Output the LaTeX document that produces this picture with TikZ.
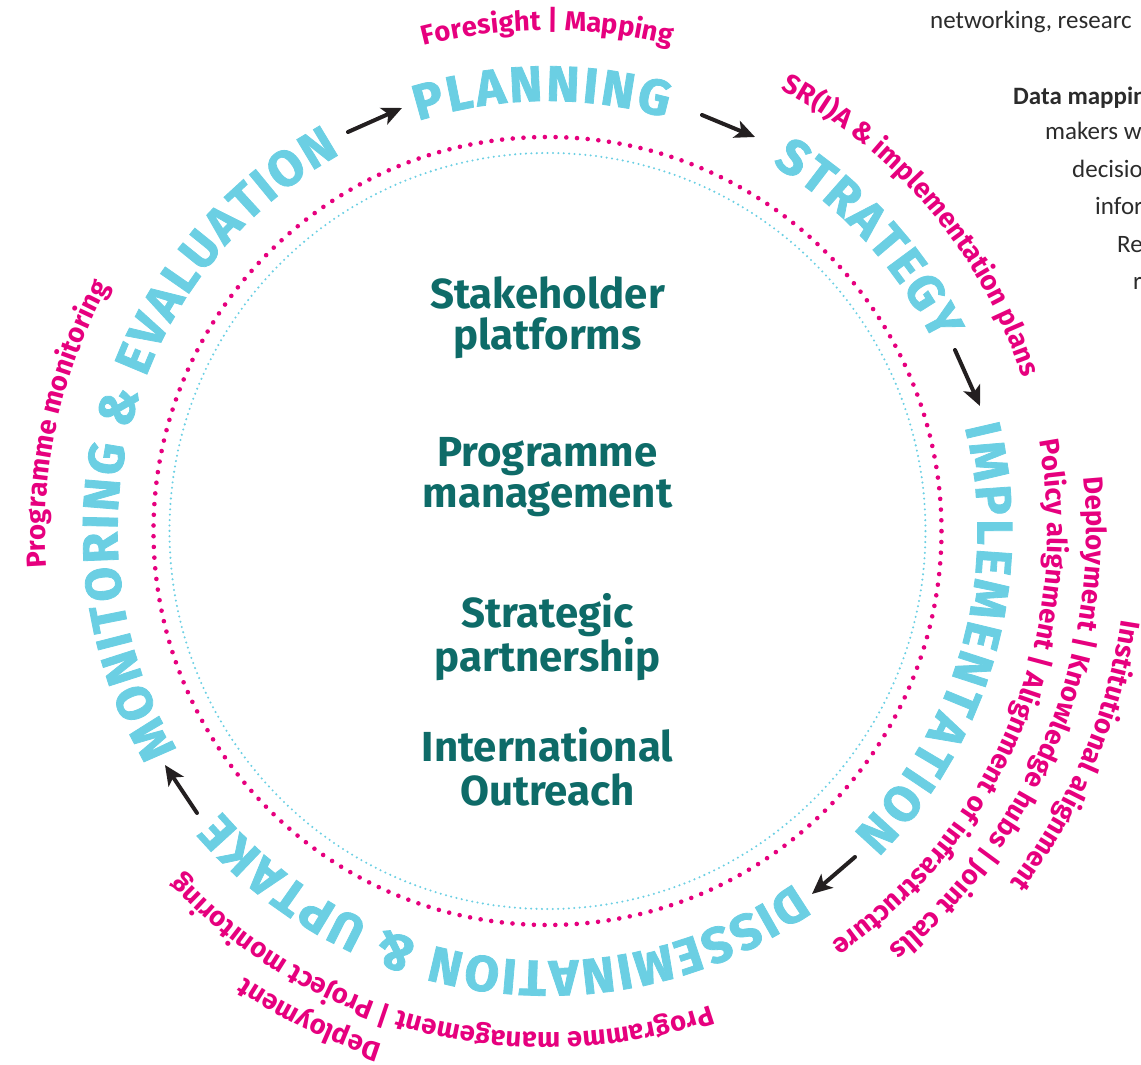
\documentclass[tikz,border=0pt]{standalone}
\usepackage{fontspec}
\setmainfont{Fira Sans}
\newfontfamily\grayfont{Carlito}
\newfontfamily\cyanfam[FakeBold=1.6]{Fira Sans}
\usetikzlibrary{decorations.text,arrows.meta}
\definecolor{cyanT}{HTML}{6BCFE3}
\definecolor{pinkT}{HTML}{E6007E}
\definecolor{tealT}{HTML}{0E6B68}
\definecolor{arrowT}{HTML}{231F20}
\definecolor{grayT}{HTML}{2B2B2B}
\newcommand{\cyanfnt}{\cyanfam\fontsize{50pt}{50pt}\selectfont\bfseries}
\newcommand{\pinkfnt}{\fontsize{27.5pt}{27.5pt}\selectfont\bfseries}
\tikzset{
  cyanarc/.style={decorate,decoration={text along path,text format delimiters={<}{>},
     text={<\cyanfnt>#1},text color=cyanT,text align=fit to path}},
  pinkarc/.style={decorate,decoration={text along path,text format delimiters={<}{>},
     text={<\pinkfnt>#1},text color=pinkT,text align=center}},
  centertext/.style={text=tealT,font=\fontsize{42pt}{42pt}\selectfont\bfseries,anchor=base,inner sep=0pt},
  graytext/.style={text=grayT,font=\grayfont\fontsize{25pt}{25pt}\selectfont,anchor=base west,inner sep=0pt},
  flow/.style={draw=arrowT,line width=4pt,line cap=round,-{Stealth[length=20pt,width=18pt,inset=5pt]}}
}
\begin{document}
\begin{tikzpicture}[x=1pt,y=1pt]
\useasboundingbox (-547.5,-534) rectangle (593.5,531);
% dotted rings
\draw[pinkT,line width=4.6pt,line cap=round,dash pattern=on 0pt off 10.717pt] (0,0) circle[radius=394pt];
\draw[cyanT,line width=2.3pt,line cap=round,dash pattern=on 0pt off 5.398pt] (0,0) circle[radius=378pt];
% cyan phase labels
\path[cyanarc={MONITORING {\&} EVALUATION}] (210.5:430pt) arc[start angle=210.5,end angle=118.8,radius=430pt];
\path[cyanarc={PLANNING}] (107.5:430pt) arc[start angle=107.5,end angle=74,radius=430pt];
\path[cyanarc={STRATEGY}] (58.5:430pt) arc[start angle=58.5,end angle=26,radius=430pt];
\path[cyanarc={IMPLEMENTATION}] (14:430pt) arc[start angle=14,end angle=-44.7,radius=430pt];
\path[cyanarc={DISSEMINATION {\&} UPTAKE}] (-55:430pt) arc[start angle=-55,end angle=-139.3,radius=430pt];
% pink labels
\path[pinkarc={Foresight | Mapping}] (140:501pt) arc[start angle=140,end angle=40,radius=501pt];
\path[pinkarc={SR(I)A {\&} implementation plans}] (90:499pt) arc[start angle=90,end angle=-10,radius=499pt];
\path[pinkarc={Programme monitoring}] (217.5:502pt) arc[start angle=217.5,end angle=117.5,radius=502pt];
\path[pinkarc={Programme management | Project monitoring}] (-49:502pt) arc[start angle=-49,end angle=-159,radius=502pt];
\path[pinkarc={Deployment}] (-76:539pt) arc[start angle=-76,end angle=-156,radius=539pt];
\path[pinkarc={Policy alignment | Alignment of infrastructure}] (30:500pt) arc[start angle=30,end angle=-75,radius=500pt];
\path[pinkarc={Deployment | Knowledge hubs | Joint calls}] (30:539pt) arc[start angle=30,end angle=-75,radius=539pt];
\path[pinkarc={Institutional alignment}] (20:581pt) arc[start angle=20,end angle=-66,radius=581pt];
% arrows between phases
\coordinate (a1s) at (-199.5,399); \coordinate (a1e) at (-145.5,423);
\coordinate (a2s) at (154.5,416);  \coordinate (a2e) at (207.5,394);
\coordinate (a3s) at (407.5,181);  \coordinate (a3e) at (432.5,125);
\coordinate (a4s) at (307.5,-326); \coordinate (a4e) at (264.5,-363);
\coordinate (a5s) at (-350.5,-282);\coordinate (a5e) at (-382.5,-234);
\draw[flow] (a1s) -- (a1e);
\draw[flow] (a2s) -- (a2e);
\draw[flow] (a3s) -- (a3e);
\draw[flow] (a4s) -- (a4e);
\draw[flow] (a5s) -- (a5e);
% centre texts
\node[centertext] (c1) at (0,222) {Stakeholder};
\node[centertext] (c2) at (0,181) {platforms};
\node[centertext] (c3) at (0,64) {Programme};
\node[centertext] (c4) at (0,23) {management};
\node[centertext] (c5) at (0,-97) {Strategic};
\node[centertext] (c6) at (0,-141) {partnership};
\node[centertext] (c7) at (0,-230) {International};
\node[centertext] (c8) at (0,-274) {Outreach};
% cropped side text
\node[graytext] (g1) at (382.5,502) {networking, researc};
\node[graytext,font=\grayfont\fontsize{25pt}{25pt}\selectfont\bfseries] (g2) at (465.5,426) {Data mappin};
\node[graytext] (g3) at (497.5,391) {makers w};
\node[graytext] (g4) at (524.5,353) {decisio};
\node[graytext] (g5) at (547.5,316) {infor};
\node[graytext] (g6) at (569.5,278) {Re};
\node[graytext] (g7) at (585.5,241) {r};
\end{tikzpicture}
\end{document}
